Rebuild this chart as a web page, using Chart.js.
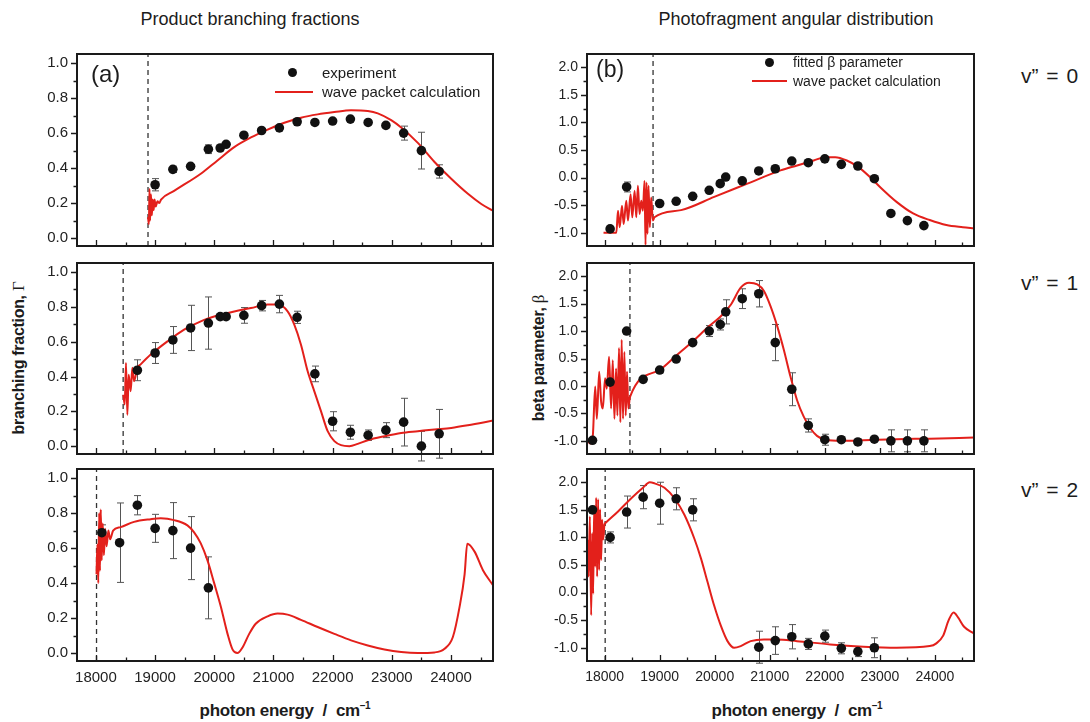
<!DOCTYPE html>
<html>
<head>
<meta charset="utf-8">
<title>Branching fractions and angular distributions</title>
<script src="https://cdn.jsdelivr.net/npm/chart.js@4.4.1/dist/chart.umd.min.js"></script>
<style>
  body { margin: 0; background: #fff; }
  #fig { position: relative; width: 1090px; height: 722px; overflow: hidden;
         font-family: 'Liberation Sans', Arial, sans-serif; color: #1c1c1c; }
  #fig canvas { position: absolute; }
  .t { position: absolute; white-space: nowrap; line-height: 1; }
  .head { font-size: 18px; top: 10px; transform: translateX(-50%); }
  .vlab { font-size: 21px; left: 1021px; word-spacing: 2px; }
  .xt { font-size: 17px; font-weight: bold; top: 702px; transform: translateX(-50%); letter-spacing: -0.3px; }
  .xt sup { font-size: 10px; vertical-align: 7px; line-height: 0; }
  .yt { font-size: 16px; font-weight: bold; transform: translate(-50%, -50%) rotate(-90deg); letter-spacing: -0.3px; }
  .yt .g { font-family: 'Liberation Serif', serif; font-weight: normal; font-size: 17px; }
  .dot { position: absolute; width: 9px; height: 9px; border-radius: 50%; background: #111; }
  .seg { position: absolute; height: 2px; background: #e3201b; }
</style>
</head>
<body>
<div id="fig">
  <div class="t head" style="left:250px">Product branching fractions</div>
  <div class="t head" style="left:796px">Photofragment angular distribution</div>

  <div class="t vlab" style="top:65px">v” = 0</div>
  <div class="t vlab" style="top:272px">v” = 1</div>
  <div class="t vlab" style="top:479px">v” = 2</div>

  <div class="t yt" style="left:18px; top:358px">branching fraction, <span class="g">Γ</span></div>
  <div class="t yt" style="left:538px; top:358px">beta parameter, <span class="g">β</span></div>

  <div class="t xt" style="left:285px">photon energy &nbsp;/&nbsp; cm<sup>–1</sup></div>
  <div class="t xt" style="left:797px">photon energy &nbsp;/&nbsp; cm<sup>–1</sup></div>
</div>

<script>
// ---- axes ----
const E_MIN = 17680, E_MAX = 24710;
const X_TICKS = [18000, 19000, 20000, 21000, 22000, 23000, 24000];
const Y_TICKS_FRAC = [0, 0.2, 0.4, 0.6, 0.8, 1.0];
const Y_TICKS_BETA = [-1, -0.5, 0, 0.5, 1, 1.5, 2];
const THRESH = [18880, 18460, 18010];   // dashed lines, one per v"

// ---- (a) v"=0 ----
const FRAC0_E   = [19000, 19300, 19600, 19900, 20100, 20200, 20500, 20800, 21100, 21400, 21700, 22000, 22300, 22600, 22900, 23200, 23500, 23800];
const FRAC0     = [0.305, 0.393, 0.41, 0.508, 0.515, 0.536, 0.588, 0.615, 0.63, 0.665, 0.661, 0.669, 0.68, 0.661, 0.644, 0.60, 0.50, 0.381];
const FRAC0_ERR = [0.035, 0.018, 0.01, 0.025, 0.01, 0.01, 0.01, 0.01, 0.01, 0.01, 0.01, 0.01, 0.01, 0.01, 0.01, 0.04, 0.105, 0.038];
const FRAC0_CALC_E = [18880, 18895, 18905, 18915, 18930, 18945, 18960, 18975, 18990, 19010, 19040, 19070, 19100, 19321, 19772, 20054, 20337, 20619, 20901, 21183, 21465, 21747, 22029, 22311, 22594, 22763, 22989, 23158, 23440, 23722, 24004, 24286, 24512, 24710];
const FRAC0_CALC   = [0.12, 0.08, 0.28, 0.10, 0.25, 0.13, 0.22, 0.16, 0.22, 0.18, 0.21, 0.20, 0.22, 0.27, 0.368, 0.444, 0.52, 0.575, 0.62, 0.659, 0.688, 0.707, 0.72, 0.73, 0.726, 0.713, 0.674, 0.632, 0.544, 0.435, 0.339, 0.253, 0.195, 0.157];

// ---- (a) v"=1 ----
const FRAC1_E   = [18700, 19000, 19300, 19600, 19900, 20100, 20200, 20500, 20800, 21100, 21400, 21700, 22000, 22300, 22600, 22900, 23200, 23500, 23800];
const FRAC1     = [0.436, 0.535, 0.61, 0.679, 0.707, 0.744, 0.744, 0.751, 0.807, 0.816, 0.74, 0.415, 0.143, 0.08, 0.063, 0.092, 0.138, 0.0, 0.071];
const FRAC1_ERR = [0.06, 0.06, 0.077, 0.13, 0.15, 0.01, 0.01, 0.045, 0.03, 0.05, 0.035, 0.045, 0.055, 0.04, 0.03, 0.043, 0.137, 0.085, 0.14];
const FRAC1_CALC_E = [18463, 18486, 18508, 18531, 18553, 18587, 18615, 18644, 18700, 18756, 18926, 19208, 19490, 19772, 20054, 20337, 20619, 20901, 21070, 21239, 21352, 21465, 21578, 21691, 21804, 21916, 22029, 22142, 22283, 22424, 22594, 22876, 23158, 23440, 23722, 24004, 24286, 24710];
const FRAC1_CALC   = [0.296, 0.239, 0.478, 0.18, 0.41, 0.315, 0.45, 0.373, 0.45, 0.47, 0.526, 0.602, 0.669, 0.717, 0.75, 0.774, 0.793, 0.813, 0.813, 0.774, 0.698, 0.583, 0.43, 0.315, 0.2, 0.086, 0.029, 0.006, 0.0, 0.013, 0.034, 0.057, 0.076, 0.086, 0.096, 0.105, 0.12, 0.147];

// ---- (a) v"=2 ----
const FRAC2_E   = [18100, 18400, 18700, 19000, 19300, 19600, 19900];
const FRAC2     = [0.688, 0.631, 0.845, 0.713, 0.70, 0.60, 0.373];
const FRAC2_ERR = [0.045, 0.227, 0.055, 0.08, 0.16, 0.18, 0.177];
const FRAC2_CALC_E = [18010, 18025, 18040, 18055, 18068, 18082, 18097, 18115, 18135, 18155, 18180, 18210, 18240, 18290, 18418, 18644, 18926, 19095, 19321, 19546, 19659, 19772, 19885, 19998, 20111, 20224, 20310, 20390, 20480, 20590, 20700, 20901, 21070, 21239, 21465, 21747, 22029, 22311, 22594, 22876, 23158, 23440, 23722, 23891, 24032, 24145, 24230, 24275, 24399, 24540, 24710];
const FRAC2_CALC   = [0.45, 0.62, 0.40, 0.80, 0.47, 0.82, 0.53, 0.74, 0.56, 0.71, 0.61, 0.70, 0.65, 0.70, 0.72, 0.75, 0.765, 0.77, 0.76, 0.73, 0.69, 0.627, 0.53, 0.40, 0.265, 0.11, 0.02, 0.0, 0.034, 0.11, 0.168, 0.21, 0.226, 0.22, 0.19, 0.149, 0.11, 0.073, 0.044, 0.021, 0.006, 0.0, 0.004, 0.025, 0.092, 0.264, 0.45, 0.625, 0.58, 0.474, 0.388];

// ---- (b) v"=0 ----
const BETA0_E   = [18100, 18400, 19000, 19300, 19600, 19900, 20100, 20200, 20500, 20800, 21100, 21400, 21700, 22000, 22300, 22600, 22900, 23200, 23500, 23800];
const BETA0     = [-0.93, -0.17, -0.47, -0.43, -0.34, -0.23, -0.11, 0.01, -0.06, 0.12, 0.16, 0.30, 0.27, 0.34, 0.24, 0.21, -0.02, -0.65, -0.78, -0.87];
const BETA0_ERR = [0, 0.09, 0, 0, 0, 0, 0, 0, 0, 0, 0, 0, 0, 0, 0, 0, 0, 0, 0, 0];
const BETA0_CALC_E = [17980, 18213, 18243, 18274, 18316, 18346, 18394, 18424, 18472, 18502, 18545, 18575, 18605, 18635, 18665, 18695, 18725, 18743, 18761, 18779, 18797, 18822, 18846, 18876, 18906, 19388, 19991, 20593, 21195, 21496, 21798, 22008, 22189, 22400, 22611, 22821, 23002, 23303, 23604, 23906, 24207, 24508, 24710];
const BETA0_CALC   = [-1.0, -1.0, -0.60, -0.90, -0.51, -0.84, -0.42, -0.78, -0.30, -0.72, -0.24, -0.72, -0.15, -0.66, -0.42, -0.60, -0.06, -1.22, -0.09, -1.02, -0.15, -0.90, -0.36, -0.78, -0.72, -0.59, -0.35, -0.11, 0.13, 0.22, 0.31, 0.37, 0.37, 0.31, 0.19, 0.01, -0.17, -0.44, -0.65, -0.77, -0.86, -0.90, -0.92];

// ---- (b) v"=1 ----
const BETA1_E   = [17780, 18100, 18400, 18700, 19000, 19300, 19600, 19900, 20100, 20200, 20500, 20800, 21100, 21400, 21700, 22000, 22300, 22600, 22900, 23200, 23500, 23800];
const BETA1     = [-0.99, 0.07, 1.0, 0.12, 0.29, 0.49, 0.79, 1.0, 1.12, 1.35, 1.59, 1.68, 0.79, -0.06, -0.72, -0.98, -0.98, -1.02, -0.97, -1.0, -1.0, -1.0];
const BETA1_ERR = [0, 0, 0, 0, 0.05, 0.02, 0.03, 0.1, 0.1, 0.22, 0.18, 0.24, 0.33, 0.3, 0.12, 0.1, 0.05, 0.05, 0.04, 0.2, 0.2, 0.2];
const BETA1_CALC_E = [17690, 17738, 17786, 17829, 17859, 17901, 17937, 17967, 18009, 18039, 18081, 18118, 18148, 18178, 18208, 18232, 18262, 18286, 18310, 18334, 18359, 18383, 18407, 18431, 18461, 18997, 19298, 19599, 19900, 20111, 20292, 20472, 20623, 20774, 20894, 21015, 21135, 21255, 21376, 21496, 21617, 21737, 21858, 22008, 22310, 22701, 23303, 23906, 24710];
const BETA1_CALC   = [-0.99, -1.05, -0.90, -0.01, -0.60, 0.26, -0.29, -0.41, 0.14, -0.05, 0.53, -0.41, 0.47, -0.60, 0.32, -0.54, 0.69, -0.66, 0.84, -0.60, 0.62, -0.54, 0.26, -0.41, -0.20, 0.29, 0.55, 0.81, 1.09, 1.27, 1.48, 1.79, 1.88, 1.85, 1.73, 1.45, 1.09, 0.66, 0.17, -0.26, -0.56, -0.77, -0.91, -0.98, -1.0, -0.99, -0.97, -0.96, -0.94];

// ---- (b) v"=2 ----
const BETA2_E   = [17780, 18100, 18400, 18700, 19000, 19300, 19600, 20800, 21100, 21400, 21700, 22000, 22300, 22600, 22900];
const BETA2     = [1.5, 1.0, 1.46, 1.73, 1.62, 1.70, 1.5, -0.99, -0.87, -0.80, -0.93, -0.79, -1.01, -1.07, -1.0];
const BETA2_ERR = [0, 0.1, 0.29, 0.21, 0.38, 0.2, 0.2, 0.29, 0.25, 0.22, 0.1, 0.11, 0.1, 0.09, 0.18];
const BETA2_CALC_E = [17690, 17708, 17732, 17756, 17774, 17792, 17810, 17828, 17846, 17864, 17882, 17900, 17918, 17937, 17955, 17973, 17997, 18015, 18244, 18485, 18696, 18820, 18907, 19087, 19268, 19449, 19629, 19750, 19870, 19991, 20111, 20232, 20352, 20473, 20653, 20894, 21135, 21496, 22099, 22701, 23303, 23906, 24026, 24150, 24250, 24340, 24420, 24530, 24710];
const BETA2_CALC   = [0.96, 0.29, 1.38, -0.41, 1.08, -0.02, 1.57, 0.47, 1.72, 0.29, 1.69, 0.41, 1.51, 0.59, 1.32, 0.96, 1.23, 1.26, 1.47, 1.71, 1.90, 2.0, 1.98, 1.90, 1.71, 1.41, 0.98, 0.62, 0.19, -0.24, -0.60, -0.88, -1.0, -0.97, -0.88, -0.85, -0.85, -0.88, -0.94, -0.98, -1.0, -0.97, -0.92, -0.78, -0.50, -0.36, -0.45, -0.62, -0.74];

const RED = '#e3201b';
const FONT = "'Liberation Sans', Arial, sans-serif";

// column = y scale + horizontal placement, row = vertical placement
const COLS = [
  { left: 77, right: 493, yMin: -0.045, yMax: 1.052, yTicks: Y_TICKS_FRAC, minor: 0.1, size: 15 },
  { left: 587, right: 974, yMin: -1.24, yMax: 2.24, yTicks: Y_TICKS_BETA, minor: 0.25, size: 14 },
];
const ROWS = [{ top: 54, bottom: 246 }, { top: 263, bottom: 454 }, { top: 469, bottom: 661 }];

const PANELS = [
  { col: 0, row: 0, expE: FRAC0_E, exp: FRAC0, err: FRAC0_ERR, calcE: FRAC0_CALC_E, calc: FRAC0_CALC },
  { col: 0, row: 1, expE: FRAC1_E, exp: FRAC1, err: FRAC1_ERR, calcE: FRAC1_CALC_E, calc: FRAC1_CALC },
  { col: 0, row: 2, expE: FRAC2_E, exp: FRAC2, err: FRAC2_ERR, calcE: FRAC2_CALC_E, calc: FRAC2_CALC },
  { col: 1, row: 0, expE: BETA0_E, exp: BETA0, err: BETA0_ERR, calcE: BETA0_CALC_E, calc: BETA0_CALC },
  { col: 1, row: 1, expE: BETA1_E, exp: BETA1, err: BETA1_ERR, calcE: BETA1_CALC_E, calc: BETA1_CALC },
  { col: 1, row: 2, expE: BETA2_E, exp: BETA2, err: BETA2_ERR, calcE: BETA2_CALC_E, calc: BETA2_CALC },
];

const pts = (xs, ys) => xs.map((x, i) => ({ x, y: ys[i] }));

// error bars behind the markers, frame + Origin-style ticks on top
function decor(p, col) {
  return {
    id: 'decor',
    beforeDatasetsDraw(chart) {
      const { ctx, scales: { x, y } } = chart;
      ctx.save();
      ctx.strokeStyle = '#555';
      ctx.lineWidth = 1;
      p.expE.forEach((e, i) => {
        const d = p.err[i];
        if (!d) return;
        const px = Math.round(x.getPixelForValue(e)) + 0.5;
        const y1 = y.getPixelForValue(p.exp[i] - d), y2 = y.getPixelForValue(p.exp[i] + d);
        ctx.beginPath();
        ctx.moveTo(px, y1); ctx.lineTo(px, y2);
        ctx.moveTo(px - 3.5, y1); ctx.lineTo(px + 3.5, y1);
        ctx.moveTo(px - 3.5, y2); ctx.lineTo(px + 3.5, y2);
        ctx.stroke();
      });
      ctx.restore();
    },
    afterDraw(chart) {
      const { ctx, chartArea: a, scales: { x, y } } = chart;
      ctx.save();
      ctx.strokeStyle = '#1c1c1c';
      ctx.lineWidth = 1.3;
      ctx.beginPath();
      for (let v = 17500; v <= 25000; v += 500) {
        if (v < E_MIN || v > E_MAX) continue;
        const px = Math.round(x.getPixelForValue(v)) + 0.5;
        const len = v % 1000 === 0 ? 6 : 3.5;
        ctx.moveTo(px, a.bottom); ctx.lineTo(px, a.bottom - len);
      }
      const n = Math.round((col.yMax - col.yMin) / col.minor) + 2;
      for (let k = -n; k <= n; k++) {
        const v = +(k * col.minor).toFixed(3);
        if (v < col.yMin || v > col.yMax) continue;
        const py = Math.round(y.getPixelForValue(v)) + 0.5;
        const major = col.yTicks.some(t => Math.abs(t - v) < 1e-6);
        ctx.moveTo(a.left, py); ctx.lineTo(a.left - (major ? 6 : 3.5), py);
      }
      ctx.stroke();
      ctx.lineWidth = 2;
      ctx.strokeStyle = '#1a1a1a';
      ctx.strokeRect(a.left, a.top, a.right - a.left, a.bottom - a.top);
      ctx.restore();
    },
  };
}

function buildPanel(p) {
  const fig = document.getElementById('fig');
  const col = COLS[p.col], row = ROWS[p.row];
  const padTop = 24, padRight = 14, yW = 64, xH = p.row === 2 ? 40 : 24;
  const w = col.right - col.left, h = row.bottom - row.top;
  const cv = document.createElement('canvas');
  cv.width = yW + w + padRight;
  cv.height = padTop + h + xH;
  cv.style.left = (col.left - yW) + 'px';
  cv.style.top = (row.top - padTop) + 'px';
  fig.appendChild(cv);

  new Chart(cv.getContext('2d'), {
    type: 'line',
    data: {
      datasets: [
        { type: 'scatter', data: pts(p.expE, p.exp), pointRadius: 4.8, pointBackgroundColor: '#111', pointBorderColor: '#111', pointBorderWidth: 0, order: 0 },
        { data: pts(p.calcE, p.calc), borderColor: RED, borderWidth: 2, pointRadius: 0, cubicInterpolationMode: 'monotone', order: 1 },
        { data: [{ x: THRESH[p.row], y: col.yMin }, { x: THRESH[p.row], y: col.yMax }], borderColor: '#333', borderWidth: 1.3, borderDash: [5, 4], pointRadius: 0, order: 2 },
      ],
    },
    options: {
      responsive: false,
      animation: false,
      events: [],
      layout: { padding: { top: padTop, right: padRight, left: 0, bottom: 0 } },
      plugins: { legend: { display: false }, tooltip: { enabled: false } },
      scales: {
        x: {
          type: 'linear', min: E_MIN, max: E_MAX,
          grid: { display: false, drawTicks: false }, border: { display: false },
          afterBuildTicks: s => { s.ticks = X_TICKS.map(v => ({ value: v })); },
          afterFit: s => { s.height = xH; },
          ticks: { display: p.row === 2, padding: 8, color: '#222', maxRotation: 0, autoSkip: false,
                   font: { family: FONT, size: col.size }, callback: v => String(v) },
        },
        y: {
          type: 'linear', min: col.yMin, max: col.yMax,
          grid: { display: false, drawTicks: false }, border: { display: false },
          afterBuildTicks: s => { s.ticks = col.yTicks.map(v => ({ value: v })); },
          afterFit: s => { s.width = yW; },
          ticks: { padding: 9, color: '#222', font: { family: FONT, size: col.size }, callback: v => v.toFixed(1) },
        },
      },
    },
    plugins: [decor(p, col)],
  });
}

PANELS.forEach(buildPanel);

// legends and panel letters sit above the canvases
const fig = document.getElementById('fig');
fig.insertAdjacentHTML('beforeend', `
  <div class="t" style="left:91px; top:62px; font-size:24px">(a)</div>
  <div class="dot" style="left:288px; top:68px"></div>
  <div class="t" style="left:322px; top:65px; font-size:15px">experiment</div>
  <div class="seg" style="left:275px; top:91px; width:38px"></div>
  <div class="t" style="left:322px; top:84px; font-size:15px">wave packet calculation</div>

  <div class="t" style="left:596px; top:58px; font-size:23px">(b)</div>
  <div class="dot" style="left:765px; top:58px"></div>
  <div class="t" style="left:793px; top:55px; font-size:14px">fitted β parameter</div>
  <div class="seg" style="left:752px; top:80px; width:35px"></div>
  <div class="t" style="left:793px; top:74px; font-size:14px">wave packet calculation</div>
`);
</script>
</body>
</html>
